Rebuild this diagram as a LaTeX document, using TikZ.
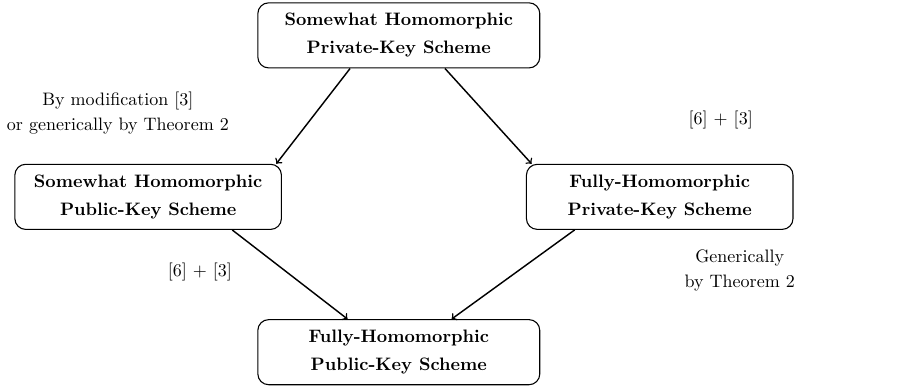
\documentclass[tikz,border=0pt]{standalone}
\usepackage{amsmath, amssymb}
\usepackage{xcolor}
\usepackage{tikz}

\begin{document}
\begin{tikzpicture}[->, thick, every node/.style={align=center},
    scheme/.style={draw, semithick, rounded corners=6pt, font=\bfseries,
      minimum width=5.2cm, minimum height=1.27cm}]

    \useasboundingbox (0,0) rectangle (17.85,7.55);

    % the four schemes
    \node[scheme, minimum width=5.5cm] (shprivate) at (7.78,6.86)
      {Somewhat Homomorphic\\[3.5pt]Private-Key Scheme};
    \node[scheme] (shpublic) at (2.89,3.71)
      {Somewhat Homomorphic\\[3.5pt]Public-Key Scheme};
    \node[scheme] (fhprivate) at (12.87,3.71)
      {Fully-Homomorphic\\[3.5pt]Private-Key Scheme};
    \node[scheme, minimum width=5.5cm] (fhpublic) at (7.78,0.68)
      {Fully-Homomorphic\\[3.5pt]Public-Key Scheme};

    % how we get from one to the other
    \draw ([xshift=-0.95cm]shprivate.south) -- ([xshift=2.5cm]shpublic.north);
    \draw ([xshift=0.9cm]shprivate.south) -- ([xshift=-2.5cm]fhprivate.north);
    \draw ([xshift=1.64cm]shpublic.south) -- ([xshift=-1.0cm]fhpublic.north);
    \draw ([xshift=-1.66cm]fhprivate.south) -- ([xshift=1.03cm]fhpublic.north);

    \node (modlabel) at (2.30,5.34) {By modification [3]\\[2pt]or generically by Theorem 2};
    \node (fhlabel) at (14.06,5.21) {[6] + [3]};
    \node (publabel) at (3.90,2.24) {[6] + [3]};
    \node (genlabel) at (14.43,2.28) {Generically\\[2pt]by Theorem 2};

\end{tikzpicture}
\end{document}
